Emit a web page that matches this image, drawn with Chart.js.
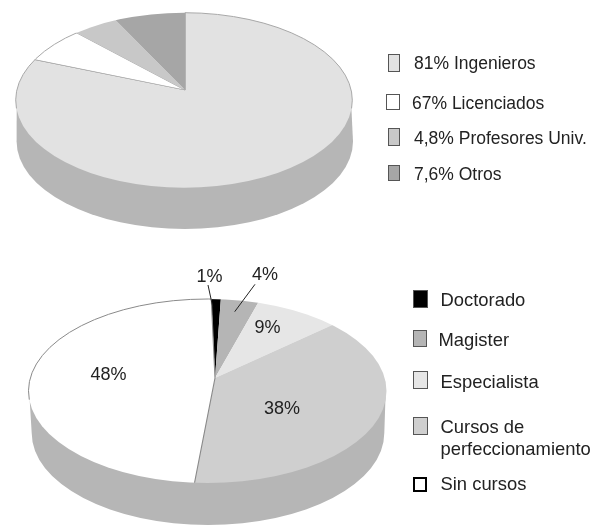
<!DOCTYPE html>
<html>
<head>
<meta charset="utf-8">
<title>Pies</title>
<script src="https://cdn.jsdelivr.net/npm/chart.js@4/dist/chart.umd.min.js"></script>
<style>
  html, body { margin: 0; background: #fff; }
  #page { position: relative; width: 597px; height: 525px; overflow: hidden; font-family: "Liberation Sans", Arial, sans-serif; color: #222; }
  canvas { position: absolute; left: 0; top: 0; }
  .txt { position: absolute; font-size: 17.5px; line-height: 22px; white-space: nowrap; transform: translateY(-50%); }
  .low { font-size: 18.4px; }
  .pct { transform: translate(-50%, -50%); font-size: 18px; }
  .sw { position: absolute; box-sizing: border-box; border: 1px solid #555; }
</style>
</head>
<body>
<div id="page">
  <canvas id="topPie" width="597" height="525"></canvas>
  <canvas id="bottomPie" width="597" height="525"></canvas>
</div>
<script>
// Datos
const topLabels = ['81% Ingenieros', '67% Licenciados', '4,8% Profesores Univ.', '7,6% Otros'];
const topValues = [81, 6.7, 4.8, 7.6];
const topColors = ['#e2e2e2', '#ffffff', '#c8c8c8', '#a6a6a6'];

const bottomLabels = ['Doctorado', 'Magister', 'Especialista', 'Cursos de\nperfeccionamiento', 'Sin cursos'];
const bottomValues = [1, 4, 9, 38, 48];
const bottomColors = ['#000000', '#b5b5b5', '#e6e6e6', '#cfcfcf', '#ffffff'];
const bottomPcts = ['1%', '4%', '9%', '38%', '48%'];

// Layout: [x, y] del centro de cada porcentaje
const pctPos = [[209.5, 276], [265, 274], [267.5, 327], [282, 408], [108.5, 373.5]];
// Layout de leyendas: swatch x, y, w, h, texto x, texto y
const topLegendPos = [
  [387.5, 53.5, 12.5, 18, 414, 62.5],
  [385.5, 93.5, 14.5, 16.5, 412, 103],
  [387.5, 127.5, 12.5, 18, 414, 138],
  [387.5, 165, 12.5, 16, 414, 174]
];
const bottomLegendPos = [
  [412.5, 290, 15, 17.5, 440.5, 300],
  [412.5, 329.5, 14, 17.5, 438.5, 339.5],
  [412.5, 370.5, 15, 18, 440.5, 381.5],
  [412.5, 416.5, 15, 18, 440.5, 437.5],
  [412.5, 476.5, 14, 15.5, 440.5, 484]
];

// Pie "3D": elipse recortada + lateral gris, con el vertice fuera del centro
function pie3d(view) {
  return {
    id: 'pie3d',
    beforeDatasetDraw(chart) {
      const ctx = chart.ctx;
      const arc = chart.getDatasetMeta(0).data[0];
      const f = view.face, s = view.side;
      ctx.save();
      // lateral
      ctx.fillStyle = view.sideColor;
      ctx.beginPath();
      ctx.ellipse(s.x, s.y, s.rx, s.ry, 0, 0, Math.PI);
      ctx.lineTo(f.x - f.rx + 1, f.y + 6);
      ctx.lineTo(f.x + f.rx - 1, f.y + 6);
      ctx.closePath();
      ctx.fill();
      // cara superior
      ctx.beginPath();
      ctx.ellipse(f.x, f.y, f.rx, f.ry, 0, 0, Math.PI * 2);
      ctx.clip();
      const sc = view.reach / arc.outerRadius;
      ctx.translate(view.apex[0], view.apex[1]);
      ctx.scale(sc, sc * view.k);
      ctx.translate(-arc.x, -arc.y);
    },
    afterDatasetDraw(chart) {
      const ctx = chart.ctx;
      const meta = chart.getDatasetMeta(0);
      const f = view.face;
      ctx.restore();
      // contorno solo en las porciones indicadas, sin el borde inferior
      view.outlined.forEach(i => {
        const a = meta.data[i];
        const sc = view.reach / a.outerRadius;
        ctx.save();
        ctx.translate(view.apex[0], view.apex[1]);
        ctx.scale(sc, sc * view.k);
        ctx.beginPath();
        ctx.moveTo(0, 0);
        ctx.arc(0, 0, a.outerRadius, a.startAngle, a.endAngle);
        ctx.closePath();
        ctx.setTransform(1, 0, 0, 1, 0, 0);
        ctx.clip();
        ctx.beginPath();
        ctx.ellipse(f.x, f.y, f.rx, f.ry, 0, Math.PI * 0.97, Math.PI * 2.03);
        ctx.strokeStyle = view.lineColor;
        ctx.lineWidth = 1;
        ctx.stroke();
        ctx.restore();
      });
      // lineas guia
      ctx.save();
      ctx.strokeStyle = '#222';
      ctx.lineWidth = 1;
      view.leaders.forEach(l => {
        ctx.beginPath();
        ctx.moveTo(l[0], l[1]);
        ctx.lineTo(l[2], l[3]);
        ctx.stroke();
      });
      ctx.restore();
    }
  };
}

function makePie(id, labels, values, colors, rotation, borderColors, borderWidths, view) {
  return new Chart(document.getElementById(id), {
    type: 'pie',
    data: {
      labels,
      datasets: [{
        data: values,
        backgroundColor: colors,
        borderColor: borderColors,
        borderWidth: borderWidths,
        clip: false
      }]
    },
    options: {
      responsive: false,
      animation: false,
      rotation,
      events: [],
      layout: { padding: 50 },
      plugins: { legend: { display: false }, tooltip: { enabled: false } }
    },
    plugins: [pie3d(view)]
  });
}

makePie('topPie', topLabels, topValues, topColors, 0,
  ['#9a9a9a', '#a8a8a8', '#c8c8c8', '#a6a6a6'], [1.2, 1.2, 0, 0], {
    face: { x: 184, y: 100.2, rx: 168.3, ry: 87.5 },
    side: { x: 184.8, y: 141.5, rx: 168.2, ry: 87.5 },
    apex: [185, 90],
    k: 0.52,
    reach: 230,
    sideColor: '#b6b6b6',
    lineColor: '#a8a8a8',
    outlined: [0, 1],
    leaders: []
  });

makePie('bottomPie', bottomLabels, bottomValues, bottomColors, -1.4,
  ['#000', '#b5b5b5', '#e6e6e6', '#cfcfcf', '#8a8a8a'], [0, 0, 0, 0, 1], {
    face: { x: 207.5, y: 391, rx: 179, ry: 92 },
    side: { x: 208, y: 433, rx: 176.3, ry: 92 },
    apex: [215, 378],
    k: 0.52,
    reach: 240,
    sideColor: '#b6b6b6',
    lineColor: '#8a8a8a',
    outlined: [4],
    leaders: [[208, 285, 212.7, 306.7], [255, 284.3, 234.7, 311.7]]
  });

// Textos y leyendas como HTML
const page = document.getElementById('page');

function addLegend(labels, colors, pos, cls, heavy) {
  labels.forEach((label, i) => {
    const p = pos[i];
    const sw = document.createElement('div');
    sw.className = 'sw';
    sw.style.cssText = `left:${p[0]}px;top:${p[1]}px;width:${p[2]}px;height:${p[3]}px;background:${colors[i]}`;
    if (heavy === i) sw.style.border = '2.5px solid #000';
    page.appendChild(sw);
    const t = document.createElement('div');
    t.className = 'txt ' + cls;
    t.style.left = p[4] + 'px';
    t.style.top = p[5] + 'px';
    t.innerHTML = label.replace('\n', '<br>');
    page.appendChild(t);
  });
}
addLegend(topLabels, topColors, topLegendPos, '');
addLegend(bottomLabels, bottomColors, bottomLegendPos, 'low', 4);

bottomPcts.forEach((label, i) => {
  const t = document.createElement('div');
  t.className = 'txt pct';
  t.style.left = pctPos[i][0] + 'px';
  t.style.top = pctPos[i][1] + 'px';
  t.textContent = label;
  page.appendChild(t);
});
</script>
</body>
</html>
